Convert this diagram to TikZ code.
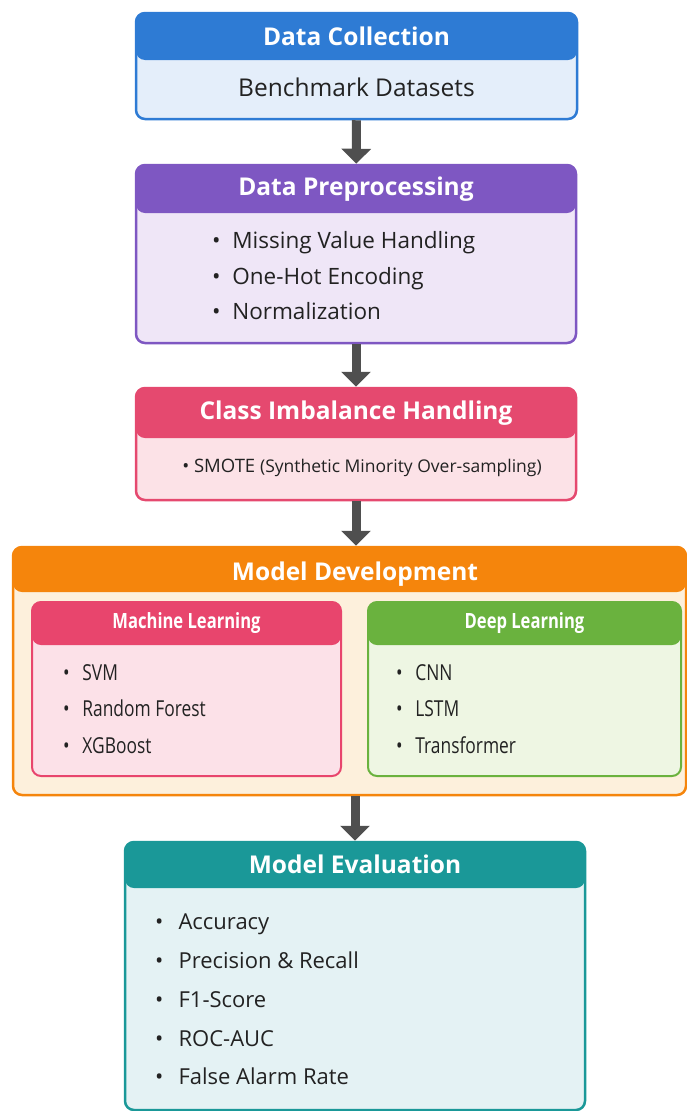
\documentclass[tikz,border=0pt]{standalone}
\usepackage{fontspec}
\setmainfont{Open Sans}
\newfontfamily\narrowfont{Open Sans}[FakeStretch=0.79]
\usepackage{tikz}
\usetikzlibrary{arrows.meta,positioning}

% stage colours
\definecolor{collHead}{HTML}{2E7BD4}
\definecolor{collBody}{HTML}{E4EEFA}
\definecolor{prepHead}{HTML}{7E57C2}
\definecolor{prepBody}{HTML}{EFE6F7}
\definecolor{imbHead}{HTML}{E5496F}
\definecolor{imbBody}{HTML}{FCE2E7}
\definecolor{devHead}{HTML}{F5850C}
\definecolor{devBody}{HTML}{FDF0DC}
\definecolor{mlHead}{HTML}{E8456D}
\definecolor{mlBody}{HTML}{FCE1E8}
\definecolor{dlHead}{HTML}{6AB23E}
\definecolor{dlBody}{HTML}{EEF6E3}
\definecolor{evalHead}{HTML}{1A9898}
\definecolor{evalBody}{HTML}{E4F2F4}
\definecolor{arrGray}{HTML}{4F4F4F}
\definecolor{txtDark}{HTML}{222222}

\begin{document}
\begin{tikzpicture}[
   x=1pt,y=1pt,
   stage/.style n args={3}{draw=#1,fill=#2,line width=2.5pt,rounded corners=9pt,
               inner sep=0pt,
               path picture={\fill[#1] (path picture bounding box.north west)
                 rectangle ([yshift=-#3]path picture bounding box.north east);}},
   head/.style={font=\bfseries\fontsize{24.5}{28}\selectfont,text=white},
   subhead/.style={font=\narrowfont\bfseries\fontsize{21}{24}\selectfont,text=white},
   items/.style={font=\fontsize{22.5}{35.5}\selectfont,text=txtDark,align=left,
               anchor=north west,inner sep=0pt},
   arr/.style={-{Triangle[length=15pt,width=29pt]},line width=9pt,arrGray}
 ]
  \useasboundingbox (0,0) rectangle (687,-1111);

  % data collection
  \node[stage={collHead}{collBody}{47pt},minimum width=441pt,minimum height=106pt]
    (coll) at (356.5,-66) {};
  \node[head] (collT) at ([yshift=-25pt]coll.north) {Data Collection};
  \node[font=\fontsize{24.5}{28}\selectfont,text=txtDark] (collB)
    at (356.5,-87) {Benchmark Datasets};

  % preprocessing
  \node[stage={prepHead}{prepBody}{48pt},minimum width=440pt,minimum height=178pt]
    (prep) at (356,-254) {};
  \node[head] (prepT) at ([yshift=-25pt]prep.north) {Data Preprocessing};
  \node[items] (prepB) at (212,-231.5)
    {\textbullet\ \ Missing Value Handling\\\textbullet\ \ One-Hot Encoding\\\textbullet\ \ Normalization};

  % class imbalance
  \node[stage={imbHead}{imbBody}{50pt},minimum width=440pt,minimum height=112pt]
    (imb) at (356,-444) {};
  \node[head] (imbT) at ([yshift=-26pt]imb.north) {Class Imbalance Handling};
  \node[items,anchor=center,font=\fontsize{18.5}{22}\selectfont] (imbB) at (362,-468)
    {\textbullet\ SMOTE {\fontsize{17.5}{22}\selectfont(Synthetic Minority Over-sampling)}};

  % model development with its two families
  \node[stage={devHead}{devBody}{45pt},minimum width=673pt,minimum height=248pt]
    (dev) at (349.5,-671) {};
  \node[head] (devT) at (355,-574) {Model Development};

  \node[stage={mlHead}{mlBody}{43pt},minimum width=309pt,minimum height=174pt,line width=2pt]
    (ml) at (186.5,-689) {};
  \node[subhead] (mlT) at ([yshift=-22pt]ml.north) {Machine Learning};
  \node[items,font=\narrowfont\fontsize{22}{36.5}\selectfont] (mlB) at (63,-664)
    {\textbullet\ \ \,SVM\\\textbullet\ \ \,Random Forest\\\textbullet\ \ \,XGBoost};

  \node[stage={dlHead}{dlBody}{43pt},minimum width=313pt,minimum height=174pt,line width=2pt]
    (dl) at (524.5,-689) {};
  \node[subhead] (dlT) at ([yshift=-22pt]dl.north) {Deep Learning};
  \node[items,font=\narrowfont\fontsize{22}{36.5}\selectfont] (dlB) at (396,-664)
    {\textbullet\ \ \,CNN\\\textbullet\ \ \,LSTM\\\textbullet\ \ \,Transformer};

  % evaluation
  \node[stage={evalHead}{evalBody}{46pt},minimum width=460pt,minimum height=268pt]
    (eval) at (355,-976) {};
  \node[head] (evalT) at ([yshift=-24pt]eval.north) {Model Evaluation};
  \node[items,font=\fontsize{22}{38.7}\selectfont] (evalB) at (155,-914)
    {\textbullet\ \ \,Accuracy\\\textbullet\ \ \,Precision \& Recall\\\textbullet\ \ \,F1-Score\\%
     \textbullet\ \ \,ROC-AUC\\\textbullet\ \ \,False Alarm Rate};

  \draw[arr] (coll) -- (prep);
  \draw[arr] (prep) -- (imb);
  \draw[arr] (imb) -- (imb |- dev.north);
  \draw[arr] (dev.south -| eval) -- (eval);
 \end{tikzpicture}
\end{document}
